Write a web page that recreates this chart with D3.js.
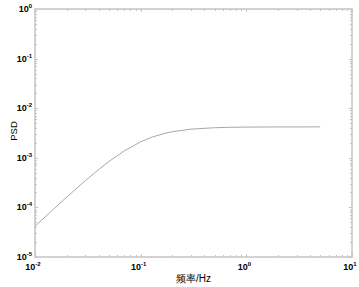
<!DOCTYPE html>
<html>
<head>
<meta charset="utf-8">
<script src="https://cdn.jsdelivr.net/npm/d3@7"></script>
<style>
  body { margin: 0; background: #fff; }
  text { font-family: "Liberation Sans", Arial, sans-serif; }
</style>
</head>
<body>
<div id="chart"></div>
<script>
// values
let freq = [0.01, 0.015, 0.02, 0.03, 0.04, 0.05, 0.07, 0.1, 0.13, 0.17, 0.2, 0.3, 0.5, 0.7, 1, 2, 5]
let psd = [4.16e-5, 9.24e-5, 1.62e-4, 3.47e-4, 5.79e-4, 8.4e-4, 1.38e-3, 2.1e-3, 2.64e-3, 3.12e-3, 3.36e-3, 3.78e-3, 4.04e-3, 4.12e-3, 4.16e-3, 4.19e-3, 4.2e-3]
let xExp = [-2, -1, 0, 1]
let yExp = [-5, -4, -3, -2, -1, 0]
let xLabel = '频率/Hz'
let yLabel = 'PSD'

const width = 359, height = 287
const margin = {top: 9, right: 7, bottom: 30, left: 35}

const svg = d3.select('#chart').append('svg')
    .attr('width', width)
    .attr('height', height)

const x = d3.scaleLog().domain([1e-2, 1e1]).range([margin.left, width - margin.right])
const y = d3.scaleLog().domain([1e-5, 1e0]).range([height - margin.bottom, margin.top])

const axisColor = '#c4c4c4'

// minor + major ticks (matlab style, pointing inward on all sides)
let xTicks = x.ticks()
let yTicks = y.ticks()

function tickLen(v) {
    return Math.abs(Math.log10(v) - Math.round(Math.log10(v))) < 1e-9 ? 3 : 2
}

const ticks = svg.append('g').attr('stroke', axisColor).attr('stroke-width', 1)
xTicks.forEach(function (v) {
    let px = Math.round(x(v)) + 0.5
    ticks.append('line').attr('x1', px).attr('x2', px)
        .attr('y1', y.range()[0]).attr('y2', y.range()[0] - tickLen(v))
    ticks.append('line').attr('x1', px).attr('x2', px)
        .attr('y1', y.range()[1]).attr('y2', y.range()[1] + tickLen(v))
})
yTicks.forEach(function (v) {
    let py = Math.round(y(v)) + 0.5
    ticks.append('line').attr('y1', py).attr('y2', py)
        .attr('x1', x.range()[0]).attr('x2', x.range()[0] + tickLen(v))
    ticks.append('line').attr('y1', py).attr('y2', py)
        .attr('x1', x.range()[1]).attr('x2', x.range()[1] - tickLen(v))
})

// box
svg.append('rect')
    .attr('x', x.range()[0]).attr('y', y.range()[1])
    .attr('width', x.range()[1] - x.range()[0])
    .attr('height', y.range()[0] - y.range()[1])
    .attr('fill', 'none')
    .attr('stroke', axisColor)
    .attr('stroke-width', 1.5)

// curve
let pts = freq.map(function (f, i) { return [f, psd[i]] })
svg.append('path')
    .datum(pts)
    .attr('fill', 'none')
    .attr('stroke', '#a8a8a8')
    .attr('stroke-width', 1)
    .attr('d', d3.line().x(d => x(d[0])).y(d => y(d[1])))

// tick labels
function powLabel(g, e) {
    g.append('tspan').text('10')
    g.append('tspan').attr('dy', -4).attr('font-size', 6).text(e)
}

xExp.forEach(function (e) {
    let t = svg.append('text')
        .attr('x', x(Math.pow(10, e)) - 2)
        .attr('y', height - margin.bottom + 13)
        .attr('text-anchor', 'middle')
        .attr('font-size', 9)
        .attr('font-weight', 'bold')
    powLabel(t, e)
})
yExp.forEach(function (e) {
    let t = svg.append('text')
        .attr('x', margin.left - 3)
        .attr('y', y(Math.pow(10, e)) + 3)
        .attr('text-anchor', 'end')
        .attr('font-size', 9)
        .attr('font-weight', 'bold')
    powLabel(t, e)
})

// axis titles
svg.append('text')
    .attr('x', (x.range()[0] + x.range()[1]) / 2)
    .attr('y', height - 5)
    .attr('text-anchor', 'middle')
    .attr('font-size', 10)
    .attr('font-family', '"Noto Sans CJK SC", sans-serif')
    .text(xLabel)

svg.append('text')
    .attr('transform', 'translate(17,' + 131 + ') rotate(-90)')
    .attr('text-anchor', 'middle')
    .attr('font-size', 9.5)
    .text(yLabel)
</script>
</body>
</html>
